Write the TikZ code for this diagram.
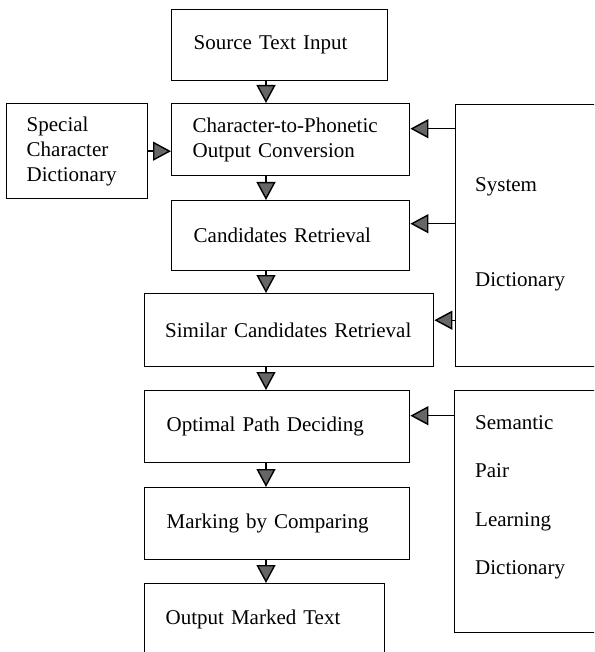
\documentclass[tikz,border=0pt]{standalone}
\usepackage{fontspec}
\setmainfont{Liberation Serif}
\usetikzlibrary{arrows.meta}
\definecolor{tipgray}{gray}{0.4}
\tikzset{
  box/.style={draw, line width=1.4pt, anchor=north west, align=left,
    font=\fontsize{21}{25}\selectfont, inner ysep=0pt},
  flow/.style={line width=1.4pt, -{Triangle[length=18pt,width=19pt,fill=tipgray]}}
}
\begin{document}
\begin{tikzpicture}[x=1pt,y=-1pt]
\useasboundingbox (0,0) rectangle (594,652);
\clip (0,0) rectangle (594,652);

%main chain
\node[box, inner xsep=22pt, text width=172pt, minimum height=71pt] (src) at (171,9) {Source Text Input};
\node[box, inner xsep=21pt, text width=196pt, minimum height=72pt] (conv) at (171,103) {Character-to-Phonetic\\Output Conversion};
\node[box, inner xsep=22pt, text width=194pt, minimum height=70pt] (cand) at (171,200) {Candidates Retrieval};
\node[box, inner xsep=20.5pt, text width=248pt, minimum height=73pt] (simcand) at (144,293) {Similar Candidates Retrieval};
\node[box, inner xsep=22pt, text width=221pt, minimum height=72pt] (optpath) at (144,390) {Optimal Path Deciding};
\node[box, inner xsep=22pt, text width=221pt, minimum height=72pt] (marking) at (144,487) {Marking by Comparing};
\node[box, inner xsep=21pt, text width=198pt, minimum height=72pt] (output) at (144,583) {Output Marked Text};

%dictionaries
\node[box, inner xsep=20pt, text width=101pt, minimum height=95pt] (special) at (6,103) {Special\\Character\\Dictionary};
\node[box, minimum width=170pt, minimum height=262pt] (sysdict) at (455,104) {};
\node[anchor=north west, inner sep=0pt, align=left, font=\fontsize{21}{95}\selectfont] (systext) at (475,177) {System\\Dictionary};
\node[box, minimum width=170pt, minimum height=242pt] (semdict) at (454,390) {};
\node[anchor=north west, inner sep=0pt, align=left, font=\fontsize{21}{48.6}\selectfont] (semtext) at (475,415) {Semantic\\Pair\\Learning\\Dictionary};

%arrows
\coordinate (axis) at (266,0);
\draw[flow] (src.south -| axis) -- (conv.north -| axis);
\draw[flow] (conv.south -| axis) -- (cand.north -| axis);
\draw[flow] (cand.south -| axis) -- (simcand.north -| axis);
\draw[flow] (simcand.south -| axis) -- (optpath.north -| axis);
\draw[flow] (optpath.south -| axis) -- (marking.north -| axis);
\draw[flow] (marking.south -| axis) -- (output.north -| axis);

\draw[flow] (special.east) -- (special.east -| conv.west);
\draw[flow] ([yshift=11pt]conv.east -| sysdict.west) -- ([yshift=11pt]conv.east);
\draw[flow] ([yshift=12pt]cand.east -| sysdict.west) -- ([yshift=12pt]cand.east);
\draw[flow] ([yshift=10pt]simcand.east -| sysdict.west) -- ([yshift=10pt]simcand.east);
\draw[flow] ([yshift=11pt]optpath.east -| semdict.west) -- ([yshift=11pt]optpath.east);

\end{tikzpicture}
\end{document}
